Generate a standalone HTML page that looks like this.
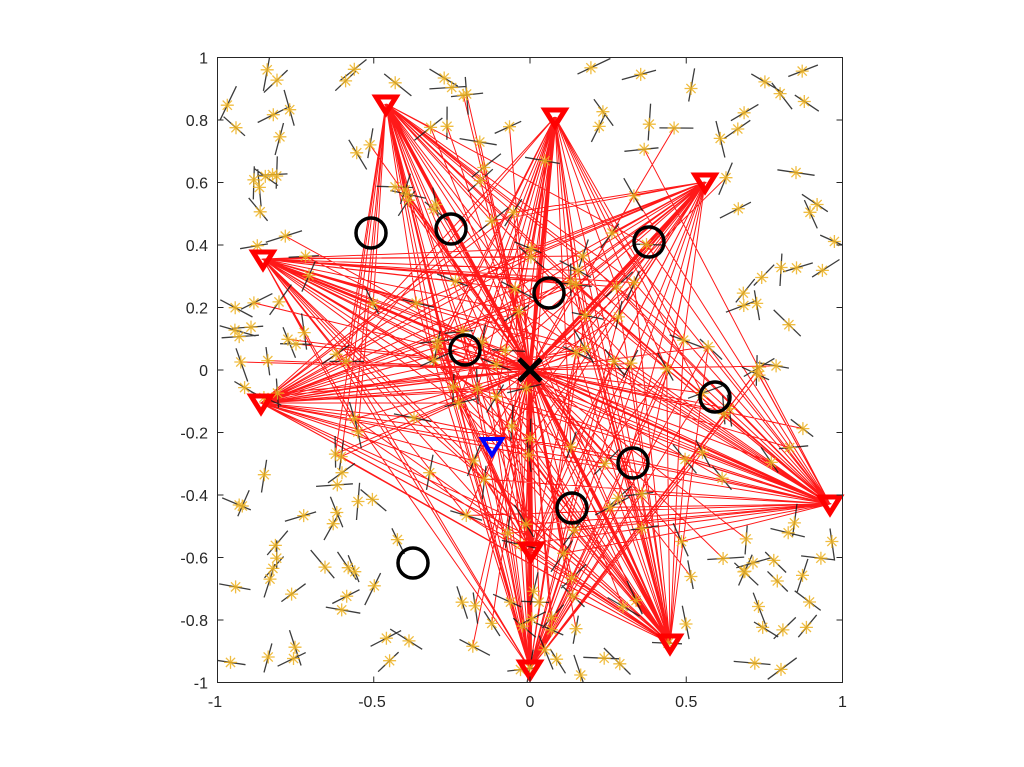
<!DOCTYPE html>
<html><head><meta charset="utf-8">
<style>
html,body{margin:0;padding:0;background:#fff;}
svg{display:block;}
text{font-family:"Liberation Sans",Arial,sans-serif;font-size:16px;fill:#262626;}
</style></head>
<body>
<svg id="s" width="1024" height="767" viewBox="0 0 1024 767" xmlns="http://www.w3.org/2000/svg">
<defs><clipPath id="cp"><rect x="217.5" y="57.5" width="625" height="625"/></clipPath></defs>
<rect width="1024" height="767" fill="#fff"/>
<g clip-path="url(#cp)">
  <path id="red" d="" fill="none" stroke="#ff0000" stroke-width="1" stroke-opacity="0.9"/>
  <path id="seg" d="" fill="none" stroke="#1a1a1a" stroke-width="1.3" stroke-opacity="0.85"/>
  <path id="ast" d="" fill="none" stroke="#EDB120" stroke-width="1.3" stroke-opacity="0.85"/>
</g>
<g fill="none" stroke="#ff0000" stroke-width="5" stroke-linejoin="miter" stroke-miterlimit="10">
  <polygon points="376,97 396,97 386,113"/>
  <polygon points="545,110 565,110 555,126"/>
  <polygon points="695,175 715,175 705,191"/>
  <polygon points="253,252 273,252 263,268"/>
  <polygon points="251,396 271,396 261,412"/>
  <polygon points="820,497 840,497 830,513"/>
  <polygon points="521,544 541,544 531,560"/>
  <polygon points="660,636 680,636 670,652"/>
  <polygon points="520,662 540,662 530,678"/>
</g>
<polygon points="482,439 502,439 492,455" fill="none" stroke="#0000ff" stroke-width="4"/>
<g fill="none" stroke="#000" stroke-width="3.5">
  <circle cx="371" cy="233" r="15"/>
  <circle cx="451" cy="229" r="15"/>
  <circle cx="649" cy="242" r="15"/>
  <circle cx="549" cy="293" r="15"/>
  <circle cx="465" cy="350" r="15"/>
  <circle cx="715" cy="397" r="15"/>
  <circle cx="633" cy="463" r="15"/>
  <circle cx="572" cy="508" r="15"/>
  <circle cx="413" cy="563" r="15"/>
</g>
<g stroke="#000" stroke-width="5">
  <line x1="519" y1="359" x2="541" y2="381"/>
  <line x1="541" y1="359" x2="519" y2="381"/>
</g>
<!-- axes -->
<g fill="none" stroke="#262626" stroke-width="1">
  <rect x="217.5" y="57.5" width="625" height="625"/>
  <path d="M217.5 682.5v-6M373.75 682.5v-6M530 682.5v-6M686.25 682.5v-6M842.5 682.5v-6
           M217.5 57.5v6M373.75 57.5v6M530 57.5v6M686.25 57.5v6M842.5 57.5v6
           M217.5 57.5h6M217.5 120h6M217.5 182.5h6M217.5 245h6M217.5 307.5h6M217.5 370h6M217.5 432.5h6M217.5 495h6M217.5 557.5h6M217.5 620h6M217.5 682.5h6
           M842.5 57.5h-6M842.5 120h-6M842.5 182.5h-6M842.5 245h-6M842.5 307.5h-6M842.5 370h-6M842.5 432.5h-6M842.5 495h-6M842.5 557.5h-6M842.5 620h-6M842.5 682.5h-6"/>
</g>
<g text-anchor="end">
  <text x="208" y="63.5">1</text>
  <text x="208" y="126">0.8</text>
  <text x="208" y="188.5">0.6</text>
  <text x="208" y="251">0.4</text>
  <text x="208" y="313.5">0.2</text>
  <text x="208" y="376">0</text>
  <text x="208" y="438.5">-0.2</text>
  <text x="208" y="501">-0.4</text>
  <text x="208" y="563.5">-0.6</text>
  <text x="208" y="626">-0.8</text>
  <text x="208" y="688.5">-1</text>
</g>
<g text-anchor="middle">
  <text x="215" y="707">-1</text>
  <text x="372" y="707">-0.5</text>
  <text x="530" y="707">0</text>
  <text x="686.25" y="707">0.5</text>
  <text x="842.5" y="707">1</text>
</g>
</svg>
<script>
(function(){
function mulberry32(a){return function(){a|=0;a=a+0x6D2B79F5|0;var t=Math.imul(a^a>>>15,1|a);t=t+Math.imul(t^t>>>7,61|t)^t;return((t^t>>>14)>>>0)/4294967296;};}
var R=mulberry32(20240611);
var X0=530,Y0=370,S=312.5;
var stars=[],i;
for(i=0;i<235;i++){stars.push([X0+S*(R()*1.96-0.98),Y0-S*(R()*1.96-0.98)]);}
function f(v){return v.toFixed(1);}
function dataX(p){return (p-X0)/S;}
function dataY(p){return (Y0-p)/S;}
var seg='',ast='';
stars.forEach(function(s){
  var a=R()*Math.PI,l=14+R()*5,off=(R()-0.5)*8;
  var ca=Math.cos(a),sa=Math.sin(a);
  var cx=s[0]+ca*off,cy=s[1]+sa*off;
  seg+='M'+f(cx-ca*l)+' '+f(cy-sa*l)+'L'+f(cx+ca*l)+' '+f(cy+sa*l);
  var h=6.5,d=4.6;
  ast+='M'+f(s[0]-h)+' '+f(s[1])+'h'+(2*h)+'M'+f(s[0])+' '+f(s[1]-h)+'v'+(2*h)+
       'M'+f(s[0]-d)+' '+f(s[1]-d)+'l'+(2*d)+' '+(2*d)+'M'+f(s[0]-d)+' '+f(s[1]+d)+'l'+(2*d)+' '+(-2*d);
});
function blocked(s){
  var x=dataX(s[0]),y=dataY(s[1]);
  if(x<-0.22&&y<-0.3)return true;
  if(x<-0.55&&y>0.45)return true;
  if(x>0.62&&y>0.62)return true;
  if(x>0.64&&y>0.05&&y<0.62)return true;
  return false;
}
var tris=[[386,104],[555,117],[705,182],[263,259],[261,403],[830,504],[531,551],[670,643],[530,669]];
var red='';
tris.forEach(function(t,ti){
  var dx=X0-t[0],dy=Y0-t[1],D=Math.hypot(dx,dy);
  stars.forEach(function(s){
    var vx=s[0]-t[0],vy=s[1]-t[1],L=Math.hypot(vx,vy);
    if(L<5)return;
    var c=(vx*dx+vy*dy)/(L*D);
    var r=R();
    if(blocked(s)&&r>0.1)return;
    if(c>0.78&&L<D*1.3&&r<0.72)red+='M'+t[0]+' '+t[1]+'L'+f(s[0])+' '+f(s[1]);
  });
  for(var k=0;k<5;k++)red+='M'+f(t[0]+k*0.7-1.4)+' '+t[1]+'L'+f(X0+k*0.7-1.4)+' '+Y0;
});
stars.forEach(function(s){
  var vx=s[0]-X0,vy=s[1]-Y0,L=Math.hypot(vx,vy);
  var r=R();
  if(blocked(s))return;
  if(L<290&&r<0.7)red+='M'+X0+' '+Y0+'L'+f(s[0])+' '+f(s[1]);
});
document.getElementById('red').setAttribute('d',red);
document.getElementById('seg').setAttribute('d',seg);
document.getElementById('ast').setAttribute('d',ast);
})();
</script>
</body></html>
